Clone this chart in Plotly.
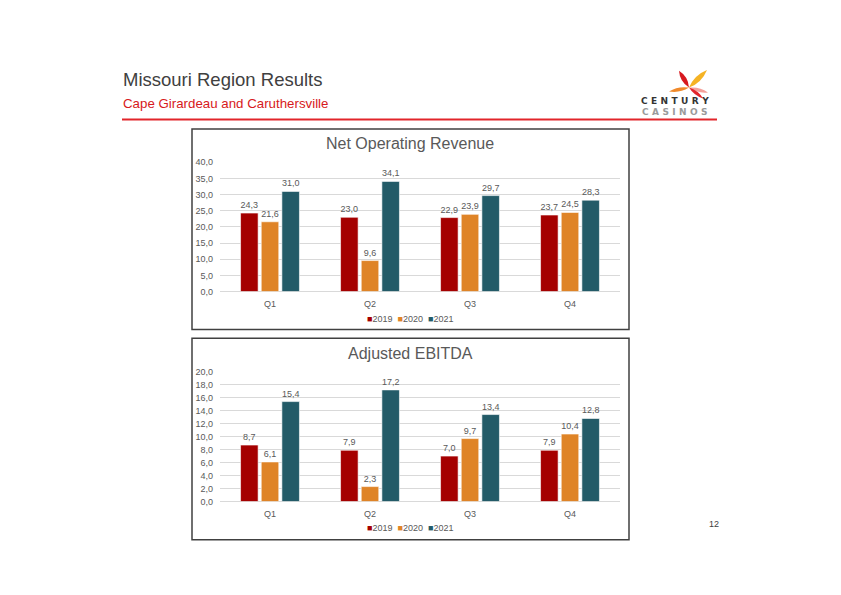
import plotly.graph_objects as go

W, H = 841, 595

quarters = ["Q1", "Q2", "Q3", "Q4"]
years = ["2019", "2020", "2021"]
colors = ["#A50000", "#DF8427", "#235B68"]

revenue_2019 = [24.3, 23.0, 22.9, 23.7]
revenue_2020 = [21.6, 9.6, 23.9, 24.5]
revenue_2021 = [31.0, 34.1, 29.7, 28.3]

ebitda_2019 = [8.7, 7.9, 7.0, 7.9]
ebitda_2020 = [6.1, 2.3, 9.7, 10.4]
ebitda_2021 = [15.4, 17.2, 13.4, 12.8]

rev_ticks = [0, 5, 10, 15, 20, 25, 30, 35, 40]
ebitda_ticks = [0, 2, 4, 6, 8, 10, 12, 14, 16, 18, 20]

FONT = "Liberation Sans, Arial, sans-serif"


def px(x):
    return x / W


def py(y):
    return 1 - y / H


fig = go.Figure()

for name, vals, col in zip(years, [revenue_2019, revenue_2020, revenue_2021], colors):
    fig.add_trace(go.Bar(
        x=quarters, y=vals, name=name, marker_color=col,
        marker_line=dict(color="rgba(255,255,255,0.6)", width=1),
        texttemplate="%{y:.1f}", textposition="outside",
        textfont=dict(size=9, color="#595959", family=FONT),
        cliponaxis=False, xaxis="x", yaxis="y", showlegend=False,
    ))

for name, vals, col in zip(years, [ebitda_2019, ebitda_2020, ebitda_2021], colors):
    fig.add_trace(go.Bar(
        x=quarters, y=vals, name=name, marker_color=col,
        marker_line=dict(color="rgba(255,255,255,0.6)", width=1),
        texttemplate="%{y:.1f}", textposition="outside",
        textfont=dict(size=9, color="#595959", family=FONT),
        cliponaxis=False, xaxis="x2", yaxis="y2", showlegend=False,
    ))

axis_common = dict(
    showgrid=True, gridcolor="#D9D9D9", gridwidth=1,
    zeroline=True, zerolinecolor="#D9D9D9", zerolinewidth=1,
    showline=False, ticks="", ticklabelstandoff=6,
    tickfont=dict(size=9, color="#595959", family=FONT),
    tickformat=".1f", fixedrange=True,
)
xaxis_common = dict(
    showgrid=False, zeroline=False, showline=False, ticks="", ticklabelstandoff=5,
    tickfont=dict(size=9, color="#595959", family=FONT), fixedrange=True,
)

fig.update_layout(
    width=W, height=H, margin=dict(l=0, r=0, t=0, b=0),
    paper_bgcolor="white", plot_bgcolor="white",
    font=dict(family=FONT, color="#595959"),
    separators=",.",
    barmode="group", bargap=0.38, bargroupgap=0.15,
    showlegend=False,
    xaxis=dict(domain=[px(220), px(620)], anchor="y", **xaxis_common),
    yaxis=dict(domain=[py(291.5), py(160)], anchor="x", range=[0, 40],
               tickvals=rev_ticks, **axis_common),
    xaxis2=dict(domain=[px(220), px(620)], anchor="y2", **xaxis_common),
    yaxis2=dict(domain=[py(505), py(373)], anchor="x2", range=[0, 20],
                tickvals=ebitda_ticks, **axis_common),
)

shapes = []
# chart frames
for y0, y1 in [(126, 330), (339, 544)]:
    shapes.append(dict(type="rect", xref="paper", yref="paper",
                       x0=px(192), x1=px(629), y0=py(y1), y1=py(y0),
                       line=dict(color="#404040", width=1.5), fillcolor="rgba(0,0,0,0)"))
# red rule under header
shapes.append(dict(type="line", xref="paper", yref="paper",
                   x0=px(122), x1=px(717), y0=py(116.5), y1=py(116.5),
                   line=dict(color="#E2252B", width=2)))


# logo petals
def petal(cx, cy, tx, ty, w, color):
    mx, my = (cx + tx) / 2, (cy + ty) / 2
    dx, dy = tx - cx, ty - cy
    L = (dx * dx + dy * dy) ** 0.5
    nx, ny = -dy / L * w, dx / L * w
    pts = [(cx, cy), (mx + nx, my + ny), (tx, ty), (mx - nx, my - ny)]
    p = [(px(a), py(b)) for a, b in pts]
    path = (f"M {p[0][0]},{p[0][1]} Q {p[1][0]},{p[1][1]} {p[2][0]},{p[2][1]} "
            f"Q {p[3][0]},{p[3][1]} {p[0][0]},{p[0][1]} Z")
    return dict(type="path", xref="paper", yref="paper", path=path,
                fillcolor=color, line=dict(width=0))


cx, cy = 689, 84
shapes += [
    petal(cx, cy, 679, 67, 5.0, "#D7191F"),
    petal(cx, cy, 707, 66, 5.5, "#F5B324"),
    petal(cx, cy, 669, 88, 4.0, "#F08A2B"),
    petal(cx, cy, 708, 89, 3.8, "#F4A09A"),
    petal(cx, cy, 703, 95, 3.4, "#E2252B"),
]
fig.update_layout(shapes=shapes)


def legend_text():
    parts = [f"<span style='color:{c}'>■</span>{y}" for y, c in zip(years, colors)]
    return "  ".join(parts)


SP = "\u2008"
century = SP.join("CENTURY")
casinos = SP.join("CASINOS")

annotations = [
    dict(text="Missouri Region Results", x=px(121), y=py(75.5), xref="paper", yref="paper",
         xanchor="left", yanchor="middle", showarrow=False,
         font=dict(size=18.5, color="#404040", family=FONT)),
    dict(text="Cape Girardeau and Caruthersville", x=px(121), y=py(100), xref="paper", yref="paper",
         xanchor="left", yanchor="middle", showarrow=False,
         font=dict(size=13.3, color="#D71920", family=FONT)),
    dict(text="Net Operating Revenue", x=px(410), y=py(141), xref="paper", yref="paper",
         xanchor="center", yanchor="middle", showarrow=False,
         font=dict(size=16, color="#595959", family=FONT)),
    dict(text="Adjusted EBITDA", x=px(410), y=py(354), xref="paper", yref="paper",
         xanchor="center", yanchor="middle", showarrow=False,
         font=dict(size=16, color="#595959", family=FONT)),
    dict(text=legend_text(), x=px(410), y=py(319.5), xref="paper", yref="paper",
         xanchor="center", yanchor="middle", showarrow=False,
         font=dict(size=9, color="#595959", family=FONT)),
    dict(text=legend_text(), x=px(410), y=py(532), xref="paper", yref="paper",
         xanchor="center", yanchor="middle", showarrow=False,
         font=dict(size=9, color="#595959", family=FONT)),
    dict(text="12", x=px(721), y=py(528), xref="paper", yref="paper",
         xanchor="right", yanchor="middle", showarrow=False,
         font=dict(size=9, color="#404040", family=FONT)),
    dict(text=f"<b>{century}</b>", x=px(675), y=py(98), xref="paper", yref="paper",
         xanchor="center", yanchor="middle", showarrow=False,
         font=dict(size=9, color="#333333", family="DejaVu Sans, sans-serif")),
    dict(text=f"<b>{casinos}</b>", x=px(675), y=py(109), xref="paper", yref="paper",
         xanchor="center", yanchor="middle", showarrow=False,
         font=dict(size=9, color="#9A9A9A", family="DejaVu Sans, sans-serif")),
]
fig.update_layout(annotations=annotations)

fig.write_html("out.html")
